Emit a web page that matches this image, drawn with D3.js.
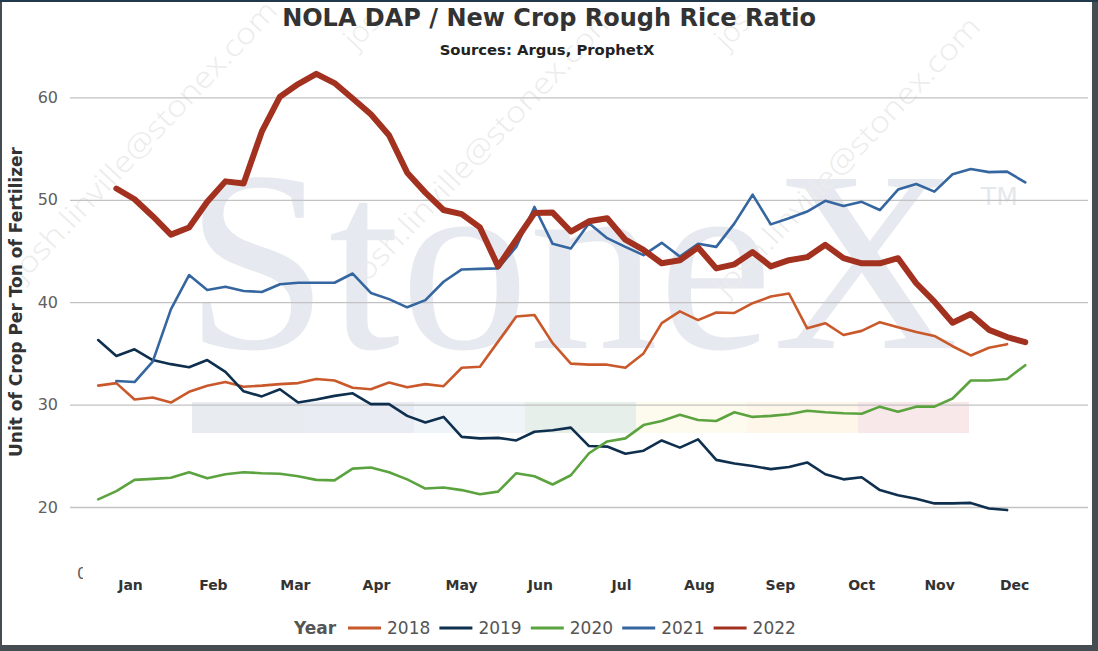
<!DOCTYPE html>
<html><head><meta charset="utf-8">
<script src="https://cdn.jsdelivr.net/npm/d3@7"></script>
<style>body{margin:0;background:#fff;overflow:hidden} svg{display:block}</style>
</head><body><svg id="c" width="1098" height="651"></svg>
<script>
// ---- data ----
const years = ["2018", "2019", "2020", "2021", "2022"];
const startWeek = [0, 0, 0, 1, 1];
const s2018 = [31.85,32.1,30.5,30.7,30.2,31.25,31.85,32.2,31.75,31.85,
  32.0,32.1,32.5,32.35,31.65,31.5,32.15,31.7,32.0,31.8,
  33.6,33.7,36.15,38.6,38.75,36.0,34.0,33.9,33.9,33.6,
  35.0,37.95,39.1,38.25,39.0,38.95,39.9,40.55,40.85,37.45,
  37.95,36.8,37.2,38.05,37.55,37.1,36.7,35.7,34.8,35.55,35.9];
const s2019 = [36.3,34.75,35.4,34.35,33.95,33.65,34.35,33.2,31.3,30.8,
  31.5,30.2,30.5,30.85,31.1,30.05,30.05,28.9,28.25,28.8,
  26.85,26.7,26.75,26.5,27.35,27.5,27.75,25.95,25.9,25.2,
  25.5,26.5,25.8,26.6,24.6,24.25,24.0,23.7,23.9,24.35,
  23.2,22.7,22.9,21.65,21.15,20.8,20.35,20.35,20.4,19.85,19.7];
const s2020 = [20.75,21.55,22.65,22.75,22.85,23.4,22.8,23.2,23.4,23.3,
  23.25,23.0,22.65,22.6,23.75,23.85,23.4,22.7,21.8,21.9,
  21.65,21.25,21.5,23.3,23.0,22.2,23.1,25.25,26.4,26.7,
  28.0,28.4,29.0,28.5,28.4,29.25,28.8,28.9,29.05,29.4,
  29.25,29.15,29.1,29.8,29.3,29.8,29.8,30.6,32.35,32.35,32.5,33.85];
const s2021 = [32.3,32.2,34.2,39.3,42.65,41.2,41.5,41.1,41.0,41.75,
  41.9,41.9,41.9,42.8,40.9,40.3,39.5,40.2,42.0,43.2,
  43.25,43.3,45.4,49.3,45.7,45.25,47.7,46.25,45.4,44.6,
  45.8,44.45,45.7,45.4,47.7,50.5,47.6,48.2,48.85,49.9,
  49.4,49.8,49.0,51.0,51.55,50.8,52.5,53.0,52.7,52.75,51.7];
const s2022 = [51.1,50.05,48.4,46.6,47.3,49.8,51.8,51.6,56.65,60.07,
  61.3,62.3,61.4,59.9,58.35,56.3,52.65,50.7,49.0,48.6,
  47.3,43.5,46.1,48.7,48.75,46.9,47.9,48.2,46.1,45.1,
  43.8,44.1,45.35,43.3,43.7,44.9,43.5,44.1,44.4,45.6,
  44.3,43.8,43.8,44.3,41.85,40.05,38.0,38.85,37.3,36.6,36.1];
const seriesValues = [s2018, s2019, s2020, s2021, s2022];
const yTicks = [20, 30, 40, 50, 60];
const monthLabels = ["Jan","Feb","Mar","Apr","May","Jun","Jul","Aug","Sep","Oct","Nov","Dec"];
const monthPos = [1.75,6.31,10.82,15.28,19.96,24.3,28.76,33.05,37.5,41.97,46.26,50.39];
const colors = ["#c9592b", "#0e2f4e", "#5ba33f", "#3566a0", "#a3311f"];
const widths = [2.6, 2.6, 2.6, 2.6, 6];
const bandColors = ["#e8ebf0","#e9edf3","#eff4f9","#e6efe9","#fdfaee","#fdf6e9","#f9e8ea"];

// ---- drawing ----
const svg = d3.select("#c");
const W = 1098, H = 651;
const L = 70, R = 1088;
const x = d3.scaleLinear().domain([-1.55, 54.45]).range([L, R]);
const y = d3.scaleLinear().domain([20, 60]).range([507, 97.4]);

// frame
svg.append("rect").attr("width", W).attr("height", H).attr("fill", "#454c52");
svg.append("rect").attr("x", 0).attr("y", 0).attr("width", W).attr("height", 2).attr("fill", "#21394a");
svg.append("rect").attr("x", 2).attr("y", 2).attr("width", 1090).attr("height", 643).attr("fill", "#ffffff");

// watermark
const wm = svg.append("g");
wm.append("text").attr("x", 185).attr("y", 348)
  .attr("font-family", "Liberation Serif, serif").attr("font-size", 258)
  .attr("fill", "#e6e9ef").text("StoneX");
wm.append("text").attr("x", 981).attr("y", 205)
  .attr("font-family", "DejaVu Sans, sans-serif").attr("font-size", 25)
  .attr("fill", "#e4e7ec").text("TM");
wm.selectAll("rect.band").data(bandColors).join("rect")
  .attr("x", (d, i) => 192 + i * 111).attr("y", 402).attr("width", 111).attr("height", 31)
  .attr("fill", d => d);
const emailPos = [[23, 282], [362, 288], [726, 298]];
wm.selectAll("text.em").data(emailPos).join("text")
  .attr("transform", d => `translate(${d[0]},${d[1]}) rotate(-46.5)`)
  .attr("font-family", "Open Sans, DejaVu Sans, sans-serif").attr("font-weight", 300)
  .attr("font-size", 29).attr("fill", "#ececec")
  .attr("textLength", 372).attr("lengthAdjust", "spacingAndGlyphs")
  .text("josh.linville@stonex.com");
const fragPos = [[356, 50], [727, 50]];
wm.selectAll("text.fr").data(fragPos).join("text")
  .attr("transform", d => `translate(${d[0]},${d[1]}) rotate(-46.5)`)
  .attr("font-family", "Open Sans, DejaVu Sans, sans-serif").attr("font-weight", 300)
  .attr("font-size", 29).attr("fill", "#ececec").text("jos");

// y axis grid + labels
const ya = svg.append("g").attr("transform", `translate(${L},0)`)
  .call(d3.axisLeft(y).tickValues(yTicks).tickSize(-(R - L)).tickPadding(12));
ya.select(".domain").remove();
ya.selectAll(".tick line").attr("stroke", "#c2c2c2").attr("stroke-width", 1.3);
ya.selectAll(".tick text").attr("font-family", "DejaVu Sans, sans-serif")
  .attr("font-size", 16).attr("fill", "#606060");

// stray clipped "0"
svg.append("clipPath").attr("id", "zc").append("rect").attr("x", 70).attr("y", 560).attr("width", 13).attr("height", 25);
svg.append("text").attr("x", 77).attr("y", 579).attr("clip-path", "url(#zc)")
  .attr("font-family", "DejaVu Sans, sans-serif").attr("font-size", 16).attr("fill", "#606060").text("0");

// x axis labels
const xa = svg.append("g").attr("transform", "translate(0,572)")
  .call(d3.axisBottom(x).tickValues(monthPos).tickFormat((d, i) => monthLabels[i]).tickSize(0).tickPadding(8));
xa.select(".domain").remove();
xa.selectAll(".tick text").attr("font-family", "DejaVu Sans, sans-serif")
  .attr("font-size", 14).attr("font-weight", "bold").attr("fill", "#333");

// lines
const line = d3.line().x(d => x(d[0])).y(d => y(d[1]));
const series = years.map((yr, k) => ({
  year: yr, color: colors[k], width: widths[k],
  pts: seriesValues[k].map((v, i) => [startWeek[k] + i, v])
}));
svg.append("g").selectAll("path").data(series).join("path")
  .attr("d", d => line(d.pts)).attr("fill", "none")
  .attr("stroke", d => d.color).attr("stroke-width", d => d.width)
  .attr("stroke-linejoin", "round").attr("stroke-linecap", "round");

// titles
svg.append("text").attr("x", 549).attr("y", 26).attr("text-anchor", "middle")
  .attr("font-family", "DejaVu Sans, sans-serif").attr("font-weight", "bold")
  .attr("font-size", 24).attr("fill", "#333").text("NOLA DAP / New Crop Rough Rice Ratio");
svg.append("text").attr("x", 547).attr("y", 55).attr("text-anchor", "middle")
  .attr("font-family", "DejaVu Sans, sans-serif").attr("font-weight", "bold")
  .attr("font-size", 14.8).attr("fill", "#222").text("Sources: Argus, ProphetX");
svg.append("text").attr("transform", "translate(22,302) rotate(-90)").attr("text-anchor", "middle")
  .attr("font-family", "DejaVu Sans, sans-serif").attr("font-weight", "bold")
  .attr("font-size", 17).attr("fill", "#333").text("Unit of Crop Per Ton of Fertilizer");

// legend
const lg = svg.append("g");
lg.append("text").attr("x", 294).attr("y", 634).attr("font-family", "DejaVu Sans, sans-serif")
  .attr("font-weight", "bold").attr("font-size", 17).attr("fill", "#555").text("Year");
const items = lg.selectAll("g.it").data(series).join("g")
  .attr("transform", (d, i) => `translate(${348 + i * 91.4},628)`);
items.append("line").attr("x1", 0).attr("x2", 33).attr("y1", 0).attr("y2", 0)
  .attr("stroke", d => d.color).attr("stroke-width", 3);
items.append("text").attr("x", 39).attr("y", 6).attr("font-family", "DejaVu Sans, sans-serif")
  .attr("font-size", 17).attr("fill", "#555").text(d => d.year);
</script></body></html>
